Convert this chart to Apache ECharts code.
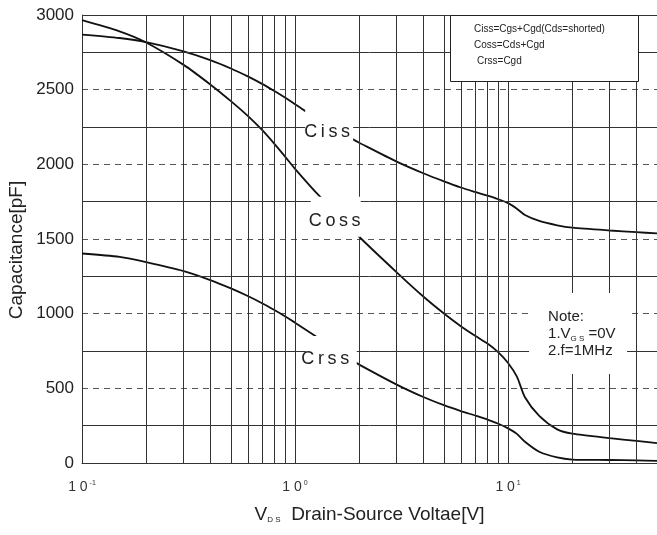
<!DOCTYPE html>
<html>
<head>
<meta charset="utf-8">
<script src="https://cdn.jsdelivr.net/npm/echarts@6/dist/echarts.min.js"></script>
<style>
  html, body { margin: 0; padding: 0; background: #fff; }
  #chart { width: 657px; height: 535px; }
</style>
</head>
<body>
<div id="chart"></div>
<script>
// Drain-source voltage samples [V] and capacitance values [pF] per curve
const cissVds = [0.1, 0.15, 0.2, 0.3, 0.4, 0.5, 0.6, 0.7, 0.8, 0.9, 1.0, 1.1, 1.5, 1.9, 2, 3, 4, 5, 6, 7, 8, 9, 10, 11, 12, 14, 17, 20, 30, 40, 50];
const cissPf  = [2869, 2846, 2819, 2757, 2698, 2642, 2589, 2539, 2491, 2446, 2403, 2363, 2246, 2162, 2145, 2018, 1940, 1886, 1845, 1815, 1790, 1766, 1740, 1703, 1661, 1621, 1592, 1576, 1557, 1546, 1537];

const cossVds = [0.1, 0.15, 0.2, 0.3, 0.4, 0.5, 0.6, 0.7, 0.8, 0.9, 1.0, 1.3, 2, 3, 4, 5, 6, 7, 8, 9, 10, 11, 12, 14, 17, 20, 30, 40, 50];
const cossPf  = [2965, 2891, 2816, 2666, 2535, 2423, 2324, 2230, 2137, 2050, 1970, 1788, 1515, 1277, 1115, 1001, 916, 852, 800, 741, 670, 578, 440, 315, 225, 196, 166, 148, 133];

const crssVds = [0.1, 0.15, 0.2, 0.3, 0.4, 0.5, 0.6, 0.7, 0.8, 0.9, 1.0, 1.25, 1.9, 2, 3, 4, 5, 6, 7, 8, 9, 10, 11, 12, 14, 17, 20, 30, 40, 50];
const crssPf  = [1403, 1380, 1345, 1285, 1225, 1169, 1118, 1070, 1024, 981, 940, 848, 679, 659, 525, 442, 387, 348, 318, 291, 263, 232, 195, 142, 75, 37, 23, 20, 17, 14];

// Grid positions
const xGridVds = [0.2, 0.3, 0.4, 0.5, 0.6, 0.7, 0.8, 0.9, 1, 2, 3, 4, 5, 6, 7, 8, 9, 10, 20, 30, 40];
const yMinorPf = [250, 750, 1250, 1750, 2250, 2750, 3000];
const yTicks = [0, 500, 1000, 1500, 2000, 2500, 3000];

const legendLines = ['Ciss=Cgs+Cgd(Cds=shorted)', 'Coss=Cds+Cgd', 'Crss=Cgd'];

const pairs = (xs, ys) => xs.map((x, i) => [x, ys[i]]);
const narrow = '"Liberation Sans Narrow", "Liberation Sans", Arial, sans-serif';
const sans = '"Liberation Sans", Arial, sans-serif';
const sp = s => s.split('').join('\u2009');

const chart = echarts.init(document.getElementById('chart'), null, { renderer: 'canvas' });

const curveStyle = { color: '#111', width: 1.8 };

function curve(name, xs, ys) {
  return {
    name, type: 'line', data: pairs(xs, ys), smooth: 0.25,
    showSymbol: false, symbol: 'none', lineStyle: curveStyle, z: 3, silent: true
  };
}

// White boxes carrying the curve names; they mask the curves and grid behind them
function tag(text, at, size, offset) {
  return {
    value: at,
    symbol: 'rect',
    symbolSize: size,
    itemStyle: { color: '#fff', opacity: 1 },
    label: {
      show: true, position: 'inside', offset,
      formatter: sp(text),
      fontFamily: narrow, fontSize: 18, color: '#222'
    }
  };
}

const option = {
  animation: false,
  backgroundColor: '#fff',
  grid: { left: 82, right: 0, top: 15, bottom: 72, containLabel: false },
  xAxis: {
    type: 'log', logBase: 10, min: 0.1, max: 50,
    axisLine: { show: true, onZero: false, lineStyle: { color: '#333', width: 1 } },
    axisTick: { show: false },
    splitLine: { show: false },
    minorTick: { show: false },
    name: '{v|V}{sub|D S}{t|  Drain-Source Voltae[V]}',
    nameLocation: 'middle',
    nameGap: 42,
    nameTextStyle: {
      rich: {
        v: { fontFamily: sans, fontSize: 19, color: '#222' },
        sub: { fontFamily: sans, fontSize: 8, color: '#222', verticalAlign: 'bottom', padding: [6, 0, 0, 0] },
        t: { fontFamily: sans, fontSize: 19, color: '#222' }
      }
    },
    axisLabel: {
      margin: 17,
      showMaxLabel: false,
      formatter: v => {
        const e = Math.log10(v);
        const r = Math.round(e);
        if (Math.abs(e - r) > 1e-6 || r > 1) return '';
        return '{n|1 0}{s|' + (r < 0 ? '-' : '') + Math.abs(r) + '}';
      },
      rich: {
        n: { fontFamily: narrow, fontSize: 14, color: '#333' },
        s: { fontFamily: narrow, fontSize: 7, color: '#333', verticalAlign: 'top', padding: [0, 0, 6, 2] }
      }
    }
  },
  yAxis: {
    type: 'value', min: 0, max: 3000, interval: 500,
    axisLine: { show: true, onZero: false, lineStyle: { color: '#333', width: 1 } },
    axisTick: { show: false },
    splitLine: { show: true, lineStyle: { color: '#555', type: [6, 5], width: 1 } },
    axisLabel: {
      margin: 8, fontFamily: sans, fontSize: 17, color: '#222',
      formatter: v => yTicks.includes(v) ? String(v) : ''
    }
  },
  graphic: [
    {
      type: 'text', x: 17, y: 250, rotation: Math.PI / 2, z: 100,
      style: { text: 'Capacitance[pF]', fontFamily: sans, fontSize: 19, fill: '#222', align: 'center', verticalAlign: 'middle' }
    },
    {
      type: 'group', z: 100,
      children: [
        { type: 'rect', shape: { x: 450.5, y: 15.5, width: 188, height: 66 },
          style: { fill: '#fff', stroke: '#222', lineWidth: 1 }, z: 100 },
        ...legendLines.map((t, i) => ({
          type: 'text', x: i === 2 ? 477 : 474, y: 29.5 + i * 16, z: 101,
          style: { text: t, fontFamily: sans, fontSize: 10, fill: '#222', verticalAlign: 'middle' }
        }))
      ]
    }
  ],
  series: [
    {
      name: 'grid', type: 'line', data: [], z: 1, silent: true,
      markLine: {
        silent: true, symbol: 'none', animation: false,
        label: { show: false },
        lineStyle: { color: '#333', type: 'solid', width: 1 },
        data: [
          ...xGridVds.map(v => ({ xAxis: v })),
          ...yMinorPf.map(v => ({ yAxis: v }))
        ]
      }
    },
    curve('Ciss', cissVds, cissPf),
    curve('Coss', cossVds, cossPf),
    curve('Crss', crssVds, crssPf),
    {
      name: 'tags', type: 'scatter', z: 5, silent: true,
      itemStyle: { opacity: 1 },
      data: [
        tag('Ciss', [1.446, 2273], [48, 37], [-2, 8.5]),
        tag('Coss', [1.552, 1649], [50, 40], [-1, 4]),
        tag('Crss', [1.479, 737], [51, 34], [-6, 6]),
        {
          value: [21.3, 867],
          symbol: 'rect', symbolSize: [98, 81],
          itemStyle: { color: '#fff', opacity: 1 },
          label: {
            show: true, position: 'inside', align: 'left', offset: [-30, 0.5],
            formatter: '{a|Note:}\n{a|1.V}{g|G S}{a| =0V}\n{a|2.f=1MHz}',
            rich: {
              a: { fontFamily: sans, fontSize: 15, color: '#222', lineHeight: 17 },
              g: { fontFamily: sans, fontSize: 8, color: '#222', lineHeight: 17, verticalAlign: 'bottom', padding: [5, 0, 0, 0] }
            }
          }
        }
      ]
    }
  ]
};

chart.setOption(option);
</script>
</body>
</html>
